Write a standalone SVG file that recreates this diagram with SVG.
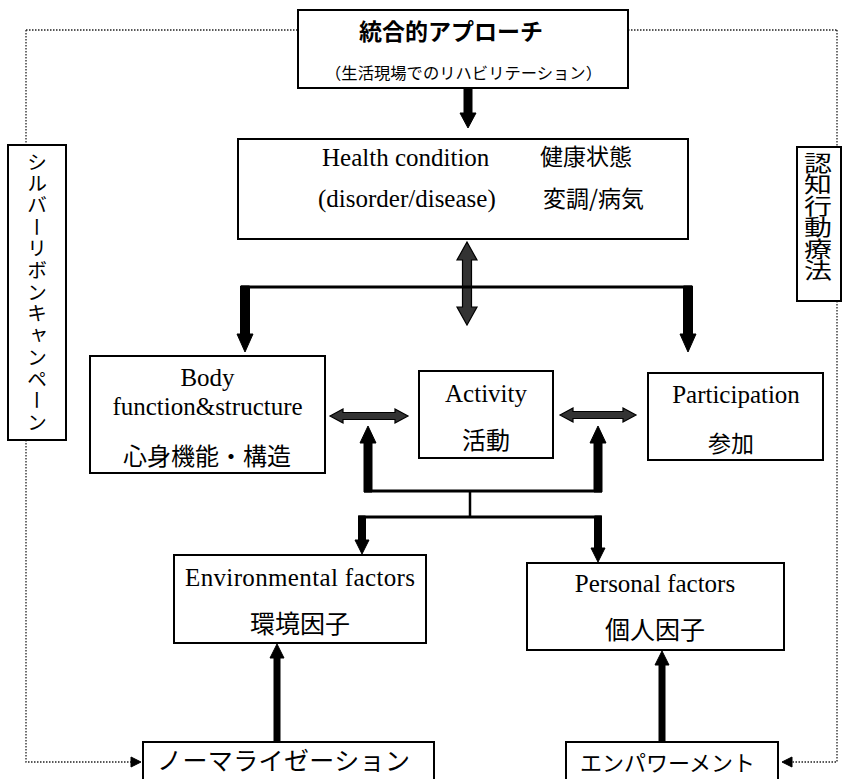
<svg xmlns="http://www.w3.org/2000/svg" width="846" height="779" viewBox="0 0 846 779">
<style>
.box{fill:#fff;stroke:#000;stroke-width:2}
.en{font-family:"Liberation Serif","Times New Roman",serif;font-size:25px;fill:#000}
.jp{font-family:"Noto Sans CJK JP","Noto Sans CJK SC",sans-serif;fill:#000}
.mid{text-anchor:middle}
.vt{writing-mode:vertical-rl;font-family:"Noto Sans CJK JP",sans-serif;fill:#000}
.dot{fill:none;stroke:#222;stroke-width:1.3;stroke-dasharray:1.5 1.5}
.line{fill:none;stroke:#000;stroke-width:3}
.arr{fill:#000;stroke:#000;stroke-width:1}
.darr{fill:#333;stroke:#000;stroke-width:1.2}
</style>
<rect width="846" height="779" fill="#fff"/>
<g id="connectors">
  <path class="dot" d="M26,30 H298 M628,30 H837 M26,30 V145 M26,440 V762 H132 M837,30 V147 M837,301 V762 H792"/>
  <polygon class="arr" points="131,757 141,762 131,767"/>
  <polygon class="arr" points="792,757 782,762 792,767"/>
  <polygon class="arr" points="464,88 472,88 472,113 476,113 468,128 460,113 464,113"/>
  <polygon class="darr" points="467,242 477,260 471.5,260 471.5,307 477,307 467,325 457,307 462.5,307 462.5,260 457,260"/>
  <path class="line" d="M241,287 H692"/>
  <polygon class="arr" points="240.5,286 249.5,286 249.5,334 253,334 245,352 237,334 240.5,334"/>
  <polygon class="arr" points="683.5,286 692.5,286 692.5,334 696,334 688,352 680,334 683.5,334"/>
  <polygon class="darr" points="330,416 343,409 343,412.5 395,412.5 395,409 408,416 395,423 395,419.5 343,419.5 343,423"/>
  <polygon class="darr" points="560,415 573,408 573,411.5 623,411.5 623,408 636,415 623,422 623,418.5 573,418.5 573,422"/>
  <polygon class="arr" points="368,426 376,443 372,443 372,492 364,492 364,443 360,443"/>
  <polygon class="arr" points="598,426 606,443 602,443 602,492 594,492 594,443 590,443"/>
  <path class="line" d="M364,491 H602 M358,517 H602"/>
  <path d="M470,491 V517" stroke="#000" stroke-width="2.5"/>
  <polygon class="arr" points="358.5,516 365.5,516 365.5,540 369,540 362,554 355,540 358.5,540"/>
  <polygon class="arr" points="594.5,516 601.5,516 601.5,548 605,548 598,562 591,548 594.5,548"/>
  <polygon class="arr" points="277,644 284,658 280,658 280,742 274,742 274,658 270,658"/>
  <polygon class="arr" points="662,651 669,665 665,665 665,742 659,742 659,665 655,665"/>
</g>
<g id="integrated">
  <rect class="box" x="298" y="10" width="330" height="78"/>
  <text class="jp mid" x="451" y="40" font-size="23" font-weight="bold">統合的アプローチ</text>
  <text class="jp" x="325" y="79" font-size="16" textLength="277" lengthAdjust="spacingAndGlyphs">（生活現場でのリハビリテーション）</text>
</g>
<g id="silver">
  <rect class="box" x="8" y="145" width="58" height="295"/>
  <text class="vt" x="37" y="152" font-size="20" letter-spacing="1.7">シルバーリボンキャンペーン</text>
</g>
<g id="cbt">
  <rect class="box" x="797" y="147" width="44" height="154"/>
  <g transform="translate(818,0) scale(1.3,1)">
    <text class="vt" x="0" y="152" font-size="21.5">認知行動療法</text>
  </g>
</g>
<g id="health">
  <rect class="box" x="238" y="139" width="450" height="100"/>
  <text class="en" x="322" y="166" font-size="24">Health condition</text>
  <text class="jp" x="540" y="165" font-size="23">健康状態</text>
  <text class="en" x="318" y="207" font-size="24">(disorder/disease)</text>
  <text class="jp" x="543" y="207" font-size="23">変調/病気</text>
</g>
<g id="body">
  <rect class="box" x="90" y="356" width="235" height="117"/>
  <text class="en mid" x="207.5" y="386">Body</text>
  <text class="en mid" x="207.5" y="415">function&amp;structure</text>
  <text class="jp mid" x="207" y="465" font-size="24">心身機能・構造</text>
</g>
<g id="activity">
  <rect class="box" x="419" y="371" width="134" height="87"/>
  <text class="en mid" x="486" y="402">Activity</text>
  <text class="jp mid" x="486" y="449" font-size="24">活動</text>
</g>
<g id="participation">
  <rect class="box" x="648" y="373" width="175" height="87"/>
  <text class="en mid" x="736" y="403">Participation</text>
  <text class="jp mid" x="731" y="452" font-size="23">参加</text>
</g>
<g id="environmental">
  <rect class="box" x="174" y="555" width="252" height="88"/>
  <text class="en mid" x="300" y="586" textLength="230">Environmental factors</text>
  <text class="jp mid" x="300" y="633" font-size="25">環境因子</text>
</g>
<g id="personal">
  <rect class="box" x="527" y="563" width="257" height="87"/>
  <text class="en mid" x="655" y="592">Personal factors</text>
  <text class="jp mid" x="655" y="639" font-size="25">個人因子</text>
</g>
<g id="normalization">
  <rect class="box" x="143" y="742" width="291" height="50"/>
  <text class="jp" x="157" y="770" font-size="25" textLength="253">ノーマライゼーション</text>
</g>
<g id="empowerment">
  <rect class="box" x="566" y="742" width="212" height="50"/>
  <text class="jp" x="580" y="771" font-size="22" textLength="175">エンパワーメント</text>
</g>
</svg>
